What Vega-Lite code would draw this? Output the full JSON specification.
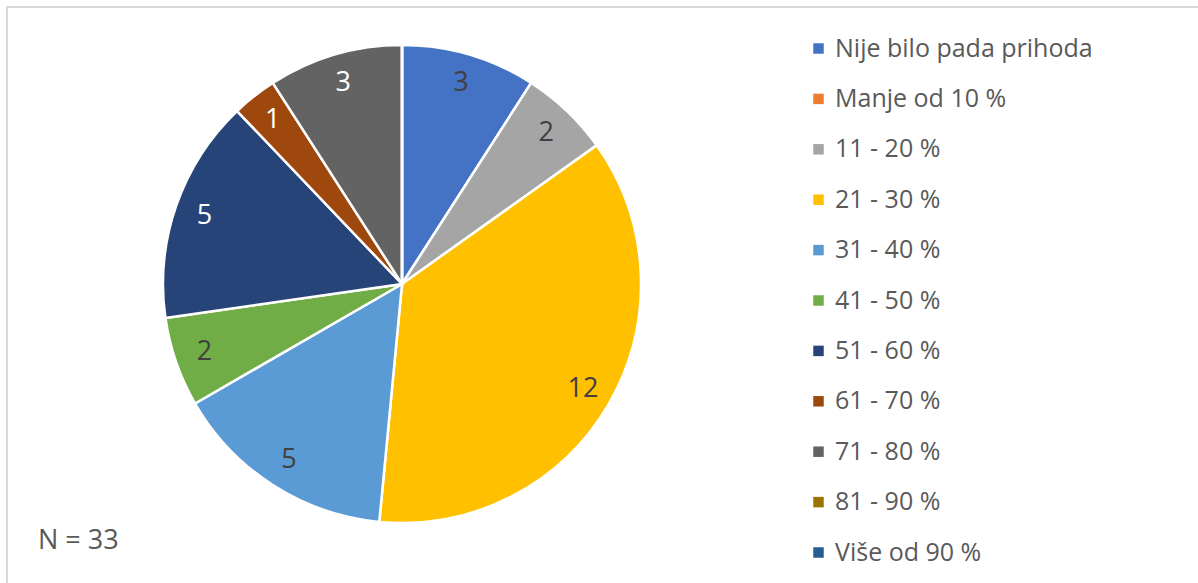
{
  "$schema": "https://vega.github.io/schema/vega-lite/v6.json",
  "autosize": "none",
  "padding": {"top": 7, "left": 7, "right": 0, "bottom": 0},
  "width": 1200,
  "height": 600,
  "background": "white",
  "config": {
    "view": {"stroke": "#D9D9D9", "strokeWidth": 2},
    "font": "Open Sans"
  },
  "data": {
    "values": [
      {"idx": 1, "cat": "Nije bilo pada prihoda", "value": 3},
      {"idx": 2, "cat": "Manje od 10 %", "value": 0},
      {"idx": 3, "cat": "11 - 20 %", "value": 2},
      {"idx": 4, "cat": "21 - 30 %", "value": 12},
      {"idx": 5, "cat": "31 - 40 %", "value": 5},
      {"idx": 6, "cat": "41 - 50 %", "value": 2},
      {"idx": 7, "cat": "51 - 60 %", "value": 5},
      {"idx": 8, "cat": "61 - 70 %", "value": 1},
      {"idx": 9, "cat": "71 - 80 %", "value": 3},
      {"idx": 10, "cat": "81 - 90 %", "value": 0},
      {"idx": 11, "cat": "Više od 90 %", "value": 0}
    ]
  },
  "layer": [
    {
      "mark": {"type": "arc", "outerRadius": 239, "stroke": "white", "strokeWidth": 2.5},
      "encoding": {
        "x": {"value": 395},
        "y": {"value": 277},
        "theta": {"field": "value", "type": "quantitative", "stack": true},
        "order": {"field": "idx", "type": "quantitative"},
        "color": {
          "field": "cat",
          "type": "nominal",
          "scale": {
            "domain": ["Nije bilo pada prihoda", "Manje od 10 %", "11 - 20 %", "21 - 30 %", "31 - 40 %", "41 - 50 %", "51 - 60 %", "61 - 70 %", "71 - 80 %", "81 - 90 %", "Više od 90 %"],
            "range": ["#4472C4", "#ED7D31", "#A5A5A5", "#FFC000", "#5B9BD5", "#70AD47", "#264478", "#9E480E", "#636363", "#997300", "#255E91"]
          },
          "legend": {
            "title": null,
            "orient": "none",
            "legendX": 799,
            "legendY": 29,
            "symbolType": "square",
            "symbolSize": 110,
            "symbolStrokeWidth": 0,
            "labelFontSize": 25,
            "labelColor": "#595959",
            "labelFont": "Open Sans",
            "labelOffset": 4,
            "rowPadding": 24.4,
            "labelLimit": 400
          }
        }
      }
    },
    {
      "transform": [{"filter": "datum.value > 0"}],
      "mark": {"type": "text", "fontSize": 27, "align": "center", "baseline": "middle"},
      "encoding": {
        "x": {"value": 395},
        "y": {"value": 277},
        "theta": {"field": "value", "type": "quantitative", "stack": true},
        "radius": {"value": 209},
        "order": {"field": "idx", "type": "quantitative"},
        "text": {"field": "value", "type": "quantitative"},
        "color": {
          "condition": {"test": "indexof(['51 - 60 %', '61 - 70 %', '71 - 80 %'], datum.cat) >= 0", "value": "white"},
          "value": "#404040"
        }
      }
    },
    {
      "data": {"values": [{"note": "N = 33"}]},
      "mark": {"type": "text", "fontSize": 27, "align": "left", "baseline": "alphabetic", "color": "#595959"},
      "encoding": {
        "x": {"value": 31},
        "y": {"value": 542},
        "text": {"field": "note"}
      }
    }
  ]
}
